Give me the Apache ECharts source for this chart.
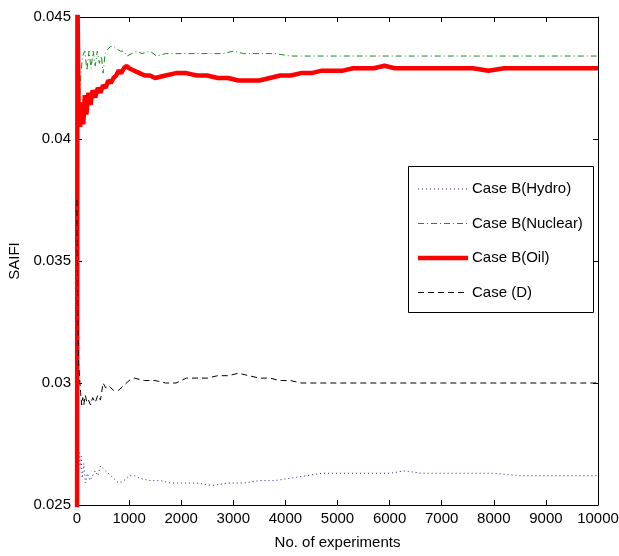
<!DOCTYPE html>
<html><head><meta charset="utf-8">
<script src="https://cdn.jsdelivr.net/npm/echarts@6/dist/echarts.min.js"></script>
<style>html,body{margin:0;padding:0;background:#fff}#c{width:619px;height:556px}</style>
</head><body><div id="c"></div>
<script>
// ---- data ----
const seriesNames = ['Case B(Hydro)', 'Case B(Nuclear)', 'Case B(Oil)', 'Case (D)'];
const xTickLabels = ['0','1000','2000','3000','4000','5000','6000','7000','8000','9000','10000'];
const yTickLabels = ['0.025','0.03','0.035','0.04','0.045'];

const hydroX = [0,20,40,60,80,100,130,160,200,250,300,350,400,450,500,550,600,700,800,900,1000,1100,1200,1400,1600,1800,2000,2300,2600,2900,3200,3500,3800,4100,4400,4700,5000,5500,6000,6300,6600,7000,7500,8000,8500,9000,9500,10000];
const hydroY = [0.0275,0.0268,0.0272,0.0265,0.0270,0.0261,0.0267,0.0259,0.0263,0.0260,0.0262,0.0264,0.0262,0.0266,0.0265,0.0264,0.0263,0.0261,0.0259,0.0260,0.0262,0.0262,0.0261,0.0260,0.0260,0.0259,0.0259,0.0259,0.0258,0.0259,0.0259,0.0260,0.0260,0.0261,0.0262,0.0263,0.0263,0.0263,0.0263,0.0264,0.0263,0.0263,0.0263,0.0263,0.0262,0.0262,0.0262,0.0262];

const nuclearX = [0,20,40,60,80,110,150,190,230,270,310,350,390,430,470,500,540,600,650,700,760,830,900,960,1050,1150,1250,1400,1530,1700,1900,2100,2300,2500,2800,3000,3200,3500,3800,4100,4500,5000,6000,7000,8000,9000,10000];
const nuclearY = [0.0405,0.0416,0.0412,0.0421,0.0428,0.0434,0.0436,0.0428,0.0436,0.0429,0.0436,0.0430,0.0436,0.0431,0.0434,0.0427,0.0435,0.0437,0.0438,0.0438,0.0437,0.0436,0.0436,0.0434,0.0435,0.0436,0.0435,0.0436,0.0434,0.0435,0.0435,0.0435,0.0435,0.0435,0.0435,0.0436,0.0435,0.0435,0.0435,0.0434,0.0434,0.0434,0.0434,0.0434,0.0434,0.0434,0.0434];

const oilX = [0,8,30,60,90,120,150,180,220,260,300,350,400,450,500,550,600,650,700,750,800,850,900,950,1000,1100,1200,1300,1400,1500,1700,1900,2100,2300,2500,2700,2900,3100,3300,3500,3700,3900,4100,4300,4500,4700,4900,5100,5300,5500,5700,5900,6100,6400,6700,7000,7300,7600,7900,8200,8500,8800,9100,9400,9700,10000];
const oilY = [0.020,0.046,0.0412,0.0405,0.0415,0.0406,0.0418,0.0410,0.0419,0.0414,0.0420,0.0417,0.0421,0.0419,0.0422,0.0421,0.0424,0.0423,0.0425,0.0426,0.0428,0.0427,0.0429,0.0430,0.0429,0.0428,0.0427,0.0426,0.0426,0.0425,0.0426,0.0427,0.0427,0.0426,0.0426,0.0425,0.0425,0.0424,0.0424,0.0424,0.0425,0.0426,0.0426,0.0427,0.0427,0.0428,0.0428,0.0428,0.0429,0.0429,0.0429,0.0430,0.0429,0.0429,0.0429,0.0429,0.0429,0.0429,0.0428,0.0429,0.0429,0.0429,0.0429,0.0429,0.0429,0.0429];

const caseDX = [0,15,30,50,70,90,110,130,160,190,220,260,300,350,400,450,500,550,600,700,800,900,1000,1100,1300,1500,1700,1900,2100,2300,2500,2700,2900,3100,3300,3500,3700,3900,4100,4300,4600,5000,6000,7000,8000,9000,10000];
const caseDY = [0.0375,0.0330,0.0308,0.0302,0.0296,0.0291,0.0294,0.0291,0.0295,0.0292,0.0293,0.0291,0.0294,0.0292,0.0295,0.0293,0.0300,0.0298,0.0299,0.0297,0.0297,0.0299,0.0301,0.0302,0.0301,0.0301,0.0300,0.0300,0.0302,0.0302,0.0302,0.0303,0.0303,0.0304,0.0303,0.0302,0.0302,0.0301,0.0301,0.0300,0.0300,0.0300,0.0300,0.0300,0.0300,0.0300,0.0300];

// ---- chart ----
const FONT = '"Liberation Sans", Arial, sans-serif';
const FS = 15;
const zip = (xs, ys) => xs.map((x, i) => [x, ys[i]]);
const styles = [
  {color: '#1c1c9c', width: 1, type: [1, 3]},
  {color: '#1a8c1a', width: 1, type: [6, 3, 1, 3]},
  {color: '#ff0000', width: 4.5, type: 'solid'},
  {color: '#000000', width: 1, type: [6, 4]}
];
const dataSets = [zip(hydroX, hydroY), zip(nuclearX, nuclearY), zip(oilX, oilY), zip(caseDX, caseDY)];

const axisCommon = {
  type: 'value',
  axisLine: {show: true, onZero: false, lineStyle: {color: '#000', width: 1}},
  axisTick: {show: true, inside: true, length: 5, lineStyle: {color: '#000'}},
  splitLine: {show: false}
};
const xMin = +xTickLabels[0], xMax = +xTickLabels[xTickLabels.length - 1];
const yMin = +yTickLabels[0], yMax = +yTickLabels[yTickLabels.length - 1];

const legendLeft = 408, legendTop = 166, rowGap = 34.5;
const graphics = [{
  type: 'rect', shape: {x: legendLeft + 0.5, y: legendTop + 0.5, width: 185, height: 146},
  style: {fill: '#fff', stroke: '#000', lineWidth: 1}, z: 100
}];
seriesNames.forEach((n, i) => {
  const y = legendTop + 23 + i * rowGap;
  graphics.push({
    type: 'line', shape: {x1: legendLeft + 10, y1: y, x2: legendLeft + 60, y2: y},
    style: {stroke: styles[i].color, lineWidth: styles[i].width,
            lineDash: Array.isArray(styles[i].type) ? styles[i].type : null}, z: 101
  });
  graphics.push({
    type: 'text', x: legendLeft + 64, y: y,
    style: {text: n, fill: '#000', font: FS + 'px ' + FONT, textVerticalAlign: 'middle', textAlign: 'left'}, z: 101
  });
});

const chart = echarts.init(document.getElementById('c'), null, {renderer: 'canvas'});
chart.setOption({
  animation: false,
  backgroundColor: '#fff',
  grid: {left: 77, right: 21, top: 17, bottom: 51, containLabel: false, outerBoundsMode: 'none'},
  xAxis: [
    Object.assign({}, axisCommon, {
      position: 'bottom', min: xMin, max: xMax, interval: 1000,
      axisLabel: {color: '#000', fontSize: FS, fontFamily: FONT, margin: 6,
                  formatter: v => String(v)},
      name: 'No. of experiments', nameLocation: 'middle', nameGap: 30,
      nameTextStyle: {color: '#000', fontSize: FS, fontFamily: FONT}
    }),
    Object.assign({}, axisCommon, {
      position: 'top', min: xMin, max: xMax, interval: 1000, axisLabel: {show: false}
    })
  ],
  yAxis: [
    Object.assign({}, axisCommon, {
      position: 'left', min: yMin, max: yMax, interval: 0.005,
      axisLabel: {color: '#000', fontSize: FS, fontFamily: FONT, margin: 6,
                  formatter: v => String(+v.toFixed(3))},
      name: 'SAIFI', nameLocation: 'middle', nameGap: 51,
      nameTextStyle: {color: '#000', fontSize: FS, fontFamily: FONT}
    }),
    Object.assign({}, axisCommon, {
      position: 'right', min: yMin, max: yMax, interval: 0.005, axisLabel: {show: false}
    })
  ],
  series: dataSets.map((d, i) => ({
    name: seriesNames[i], type: 'line', data: d, xAxisIndex: 0, yAxisIndex: 0,
    symbol: 'none', showSymbol: false, clip: true, silent: true,
    lineStyle: styles[i], z: 2 + i
  })),
  graphic: graphics
});
</script>
</body></html>
